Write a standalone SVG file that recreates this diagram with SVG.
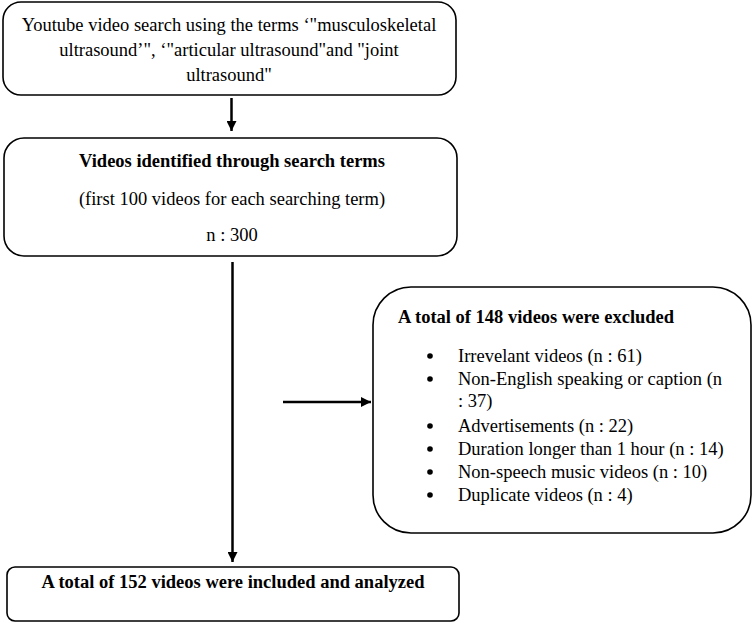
<svg xmlns="http://www.w3.org/2000/svg" width="754" height="623" viewBox="0 0 754 623">
<style>
.box{fill:#fff;stroke:#000;stroke-width:1.6}
.t{font-family:"Liberation Serif","Times New Roman",serif;font-size:18.5px;fill:#000}
.b{font-weight:bold}
.c{text-anchor:middle}
.con line{stroke:#000;stroke-width:2.5}
</style>
<defs>
<marker id="ah" viewBox="0 0 10 10" refX="10" refY="5" markerWidth="4" markerHeight="4" markerUnits="strokeWidth" orient="auto">
<path d="M0,0 L10,5 L0,10 z" fill="#000"/>
</marker>
</defs>
<rect width="754" height="623" fill="#fff"/>
<g id="search">
<rect class="box" x="3" y="2" width="453" height="93" rx="18"/>
<text class="t c" x="229" y="31">Youtube video search using the terms ‘"musculoskeletal</text>
<text class="t c" x="229" y="56">ultrasound’", ‘"articular ultrasound"and "joint</text>
<text class="t c" x="229" y="81">ultrasound"</text>
</g>
<g id="identified">
<rect class="box" x="4" y="138" width="453" height="118" rx="20"/>
<text class="t b c" x="232" y="167">Videos identified through search terms</text>
<text class="t c" x="232" y="205">(first 100 videos for each searching term)</text>
<text class="t c" x="232" y="241">n : 300</text>
</g>
<g id="excluded">
<rect class="box" x="373" y="287" width="378" height="246" rx="38"/>
<text class="t b" x="398" y="323">A total of 148 videos were excluded</text>
<g class="t">
<circle cx="430" cy="356" r="2.8"/>
<text x="458" y="362">Irrevelant videos (n : 61)</text>
<circle cx="430" cy="379" r="2.8"/>
<text x="458" y="385">Non-English speaking or caption (n</text>
<text x="458" y="407">: 37)</text>
<circle cx="430" cy="426" r="2.8"/>
<text x="458" y="432">Advertisements (n : 22)</text>
<circle cx="430" cy="449" r="2.8"/>
<text x="458" y="455">Duration longer than 1 hour (n : 14)</text>
<circle cx="430" cy="472" r="2.8"/>
<text x="458" y="478">Non-speech music videos (n : 10)</text>
<circle cx="430" cy="495" r="2.8"/>
<text x="458" y="501">Duplicate videos (n : 4)</text>
</g>
</g>
<g id="included">
<rect class="box" x="7" y="567" width="452" height="54" rx="8"/>
<text class="t b c" x="233" y="588">A total of 152 videos were included and analyzed</text>
</g>
<g id="connectors" class="con">
<line x1="231.5" y1="98" x2="231.5" y2="131" marker-end="url(#ah)"/>
<line x1="232.5" y1="262" x2="232.5" y2="562" marker-end="url(#ah)"/>
<line x1="283" y1="402" x2="371" y2="402" marker-end="url(#ah)"/>
</g>
</svg>
